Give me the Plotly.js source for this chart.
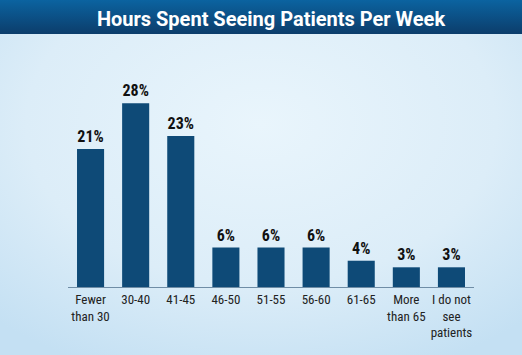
<!DOCTYPE html>
<html>
<head>
<meta charset="utf-8">
<script src="https://cdn.plot.ly/plotly-3.0.1.min.js"></script>
<style>html,body{margin:0;padding:0;background:#fff;}#chart{width:522px;height:355px;}</style>
</head>
<body>
<div id="chart"></div>
<script>
const categories = ["Fewer<br>than 30", "30-40", "41-45", "46-50", "51-55", "56-60", "61-65", "More<br>than 65", "I do not<br>see<br>patients"];
const values = [21, 28, 23, 6, 6, 6, 4, 3, 3];
const valueLabels = ["21%", "28%", "23%", "6%", "6%", "6%", "4%", "3%", "3%"];
const chartTitle = "Hours Spent Seeing Patients Per Week";

const bgSvg = '<svg xmlns="http://www.w3.org/2000/svg" width="522" height="355" viewBox="0 0 522 355">' +
  '<defs>' +
  '<radialGradient id="bg" cx="0.5" cy="0.35" r="0.75">' +
  '<stop offset="0" stop-color="#e9f5fc"/><stop offset="0.6" stop-color="#dcedf8"/><stop offset="1" stop-color="#c4e0f3"/>' +
  '</radialGradient>' +
  '<linearGradient id="tb" x1="0" y1="0" x2="0" y2="1">' +
  '<stop offset="0" stop-color="#0b63a0"/><stop offset="1" stop-color="#0c3d6b"/>' +
  '</linearGradient>' +
  '</defs>' +
  '<rect width="522" height="355" fill="url(#bg)"/>' +
  '<rect width="522" height="34" fill="url(#tb)"/>' +
  '</svg>';
const bgUri = 'data:image/svg+xml;charset=utf-8,' + encodeURIComponent(bgSvg);

const condensed = '"Liberation Sans Narrow", "Arial Narrow", "Roboto Condensed", Roboto, Arial, sans-serif';

const trace = {
  type: 'bar',
  x: categories,
  y: values,
  text: valueLabels,
  textposition: 'outside',
  cliponaxis: false,
  textfont: {family: condensed, size: 16, color: '#111111', weight: 'bold'},
  marker: {color: '#0e4a77', line: {width: 0}},
  hoverinfo: 'none'
};

const layout = {
  width: 522,
  height: 355,
  margin: {l: 68, r: 48, t: 90, b: 68},
  paper_bgcolor: 'rgba(0,0,0,0)',
  plot_bgcolor: 'rgba(0,0,0,0)',
  bargap: 0.4,
  showlegend: false,
  title: {
    text: '<b>' + chartTitle + '</b>',
    font: {family: 'Roboto, Arial, sans-serif', size: 20, color: '#ffffff'},
    x: 0.5, xanchor: 'center', y: 1 - 19/355, yanchor: 'middle', xref: 'paper', yref: 'container'
  },
  images: [{
    source: bgUri, xref: 'paper', yref: 'paper', x: -68/406, y: 1 + 90/197,
    sizex: 522/406, sizey: 355/197, xanchor: 'left', yanchor: 'top', sizing: 'stretch', layer: 'below'
  }],
  xaxis: {
    type: 'category',
    range: [-0.5, 8.5],
    showgrid: false,
    zeroline: false,
    showline: true,
    linecolor: '#6f8da6',
    linewidth: 1,
    ticks: '',
    tickfont: {family: condensed, size: 13, color: '#222222'},
    fixedrange: true
  },
  yaxis: {
    range: [0, 30],
    visible: false,
    showgrid: false,
    zeroline: false,
    fixedrange: true
  }
};

Plotly.newPlot('chart', [trace], layout, {displayModeBar: false, staticPlot: true});
</script>
</body>
</html>
